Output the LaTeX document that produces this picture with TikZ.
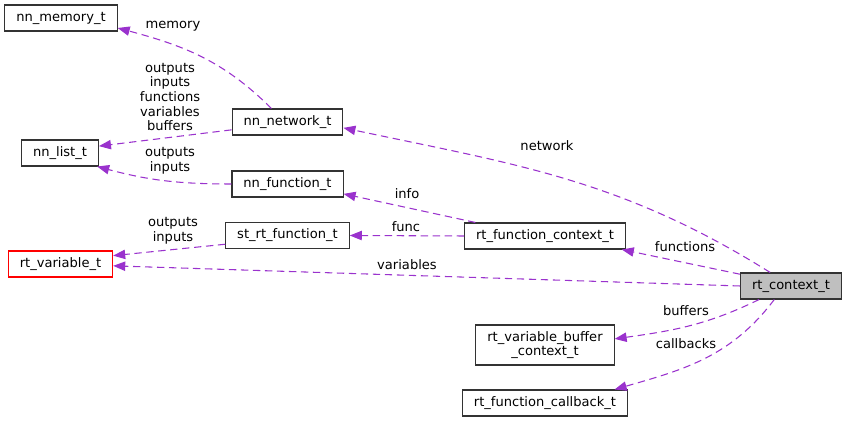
\documentclass[tikz,border=0pt]{standalone}
\usepackage{fontspec}
\setmainfont{DejaVu Sans}
\usepackage{tikz}
\usetikzlibrary{arrows.meta, calc}
\definecolor{edgeviolet}{HTML}{9A32CD}
\definecolor{ctxgray}{HTML}{BFBFBF}
\newcommand{\dxfont}{\fontsize{9.8}{10.9}\selectfont}
\tikzstyle{cls} = [draw=black!80, line width=0.8pt, fill=white, inner xsep=8.6pt, inner ysep=0pt, minimum height=19.5pt, font=\dxfont]
\tikzstyle{lbl} = [inner sep=0pt, align=center, font=\dxfont]
\tikzstyle{uses} = [draw=edgeviolet, line width=0.8pt, dash pattern=on 5.5pt off 3.5pt, -{Triangle[length=9pt, width=7pt]}]

\begin{document}
\begin{tikzpicture}[x=0.75pt, y=0.75pt]

\useasboundingbox (0, 0) rectangle (847, 423);

% Classes
\node [cls] (mem) at (61, 405) {nn\_memory\_t};
\node [cls] (net) at (287.5, 301) {nn\_network\_t};
\node [cls] (list) at (60, 270) {nn\_list\_t};
\node [cls] (nnf) at (287.5, 239) {nn\_function\_t};
\node [cls] (strf) at (287.5, 187.5) {st\_rt\_function\_t};
\node [cls, draw=red] (var) at (60.5, 159) {rt\_variable\_t};
\node [cls] (fctx) at (545, 187) {rt\_function\_context\_t};
\node [cls, fill=ctxgray] (ctx) at (791, 137) {rt\_context\_t};
\node [cls, align=center, minimum height=30pt] (buf) at (545, 78) {rt\_variable\_buffer\\\_context\_t};
\node [cls] (cb) at (545, 20) {rt\_function\_callback\_t};

% Members
\draw [uses] (net.140) to [out=135, in=-15] (mem.-10);
\node [lbl] (lmem) at (173, 397) {memory};
\draw [uses] (net.188) -- (list.10);
\node [lbl] (lnetlist) at (170, 326) {outputs\\inputs\\functions\\variables\\buffers};
\draw [uses] (nnf.west) to [out=180, in=-15] (list.-20);
\node [lbl] (lnnflist) at (170, 262) {outputs\\inputs};
\draw [uses] (fctx.169) -- (nnf.-10);
\node [lbl] (linfo) at (407, 229) {info};
\draw [uses] (fctx.west) -- (strf.east);
\node [lbl] (lfunc) at (406, 196) {func};
\draw [uses] (strf.188) -- (var.9);
\node [lbl] (lstrfvar) at (173, 192) {outputs\\inputs};
\draw [uses] (ctx.west) -- (var.-2);
\node [lbl] (lvars) at (407, 158) {variables};
\draw [uses] (ctx.167) -- (fctx.-10);
\node [lbl] (lfuncs) at (685, 176) {functions};
\draw [uses] (ctx.147) to [out=148, in=-12] (net.-6);
\node [lbl] (lnet) at (547, 277) {network};
\draw [uses] (ctx.203) to [out=206, in=8] (buf.5);
\node [lbl] (lbufs) at (686, 112) {buffers};
\draw [uses] (ctx.219) to [out=233, in=16] (cb.11);
\node [lbl] (lcbs) at (686, 79) {callbacks};

\end{tikzpicture}
\end{document}
